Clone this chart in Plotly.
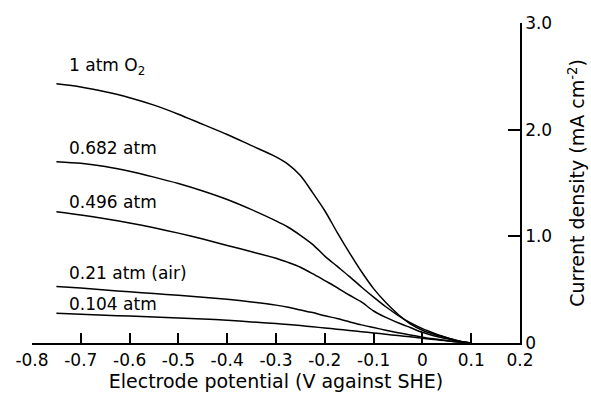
import plotly.graph_objects as go

# Electrode potential grid (V against SHE)
potential = [-0.75, -0.70, -0.65, -0.60, -0.55, -0.50, -0.45, -0.40, -0.35, -0.30,
             -0.275, -0.25, -0.225, -0.20, -0.175, -0.15, -0.125, -0.10, -0.075,
             -0.05, -0.025, 0.0, 0.025, 0.05, 0.075, 0.10]

# Current density (mA cm^-2) at each oxygen partial pressure
j_1atm = [2.43, 2.40, 2.355, 2.30, 2.23, 2.145, 2.05, 1.955, 1.85, 1.745,
          1.675, 1.57, 1.41, 1.24, 1.04, 0.85, 0.67, 0.51, 0.38,
          0.27, 0.18, 0.12, 0.08, 0.05, 0.02, 0.0]
j_0682 = [1.70, 1.685, 1.655, 1.61, 1.555, 1.495, 1.425, 1.345, 1.25, 1.145,
          1.085, 1.01, 0.925, 0.815, 0.72, 0.625, 0.525, 0.43, 0.34,
          0.26, 0.19, 0.135, 0.09, 0.05, 0.02, 0.0]
j_0496 = [1.23, 1.20, 1.165, 1.125, 1.08, 1.03, 0.975, 0.915, 0.855, 0.795,
          0.755, 0.71, 0.65, 0.585, 0.52, 0.45, 0.385, 0.30, 0.24,
          0.19, 0.145, 0.10, 0.065, 0.04, 0.015, 0.0]
j_021 = [0.53, 0.515, 0.497, 0.48, 0.463, 0.447, 0.43, 0.41, 0.385, 0.355,
         0.335, 0.31, 0.285, 0.255, 0.23, 0.20, 0.17, 0.145, 0.12,
         0.097, 0.075, 0.055, 0.038, 0.022, 0.01, 0.0]
j_0104 = [0.28, 0.27, 0.26, 0.252, 0.244, 0.235, 0.225, 0.213, 0.198, 0.182,
          0.173, 0.163, 0.152, 0.141, 0.13, 0.118, 0.106, 0.094, 0.082,
          0.07, 0.058, 0.045, 0.032, 0.02, 0.01, 0.0]

series = [j_1atm, j_0682, j_0496, j_021, j_0104]
labels = ["1 atm O<sub>2</sub>", "0.682 atm", "0.496 atm", "0.21 atm (air)", "0.104 atm"]
label_y = [2.59, 1.83, 1.32, 0.66, 0.365]

x_ticks = [-0.8, -0.7, -0.6, -0.5, -0.4, -0.3, -0.2, -0.1, 0.0, 0.1, 0.2]
x_ticktext = ["-0.8", "-0.7", "-0.6", "-0.5", "-0.4", "-0.3", "-0.2", "-0.1", "0", "0.1", "0.2"]
y_ticks = [0, 1, 2, 3]
y_ticktext = ["0", "1.0", "2.0", "3.0"]

FONT = "DejaVu Sans"

fig = go.Figure()
for ys in series:
    fig.add_trace(go.Scatter(
        x=potential, y=ys, mode="lines",
        line=dict(color="black", width=1.5, shape="spline", smoothing=0.8),
        showlegend=False, hoverinfo="skip"))

for text, yl in zip(labels, label_y):
    fig.add_annotation(x=-0.728, y=yl, text=text, showarrow=False,
                       xanchor="left", yanchor="middle",
                       font=dict(family=FONT, size=17, color="black"))

fig.update_layout(
    width=591, height=394,
    margin=dict(l=32, r=71, t=23, b=51),
    paper_bgcolor="white", plot_bgcolor="white",
    font=dict(family=FONT, size=18, color="black"),
    xaxis=dict(
        range=[-0.8, 0.2], tickvals=x_ticks, ticktext=x_ticktext,
        showline=True, linecolor="black", linewidth=1.5,
        ticks="inside", ticklen=10, tickwidth=1.5, tickcolor="black",
        showgrid=False, zeroline=False, ticklabelstandoff=1,
        automargin=False,
        tickfont=dict(family=FONT, size=17),
        title=dict(text="Electrode potential (V against SHE)",
                   font=dict(family=FONT, size=19), standoff=4),
    ),
    yaxis=dict(
        range=[0, 3.0], side="right", tickvals=y_ticks, ticktext=y_ticktext,
        showline=True, linecolor="black", linewidth=1.5,
        ticks="inside", ticklen=12, tickwidth=1.5, tickcolor="black",
        showgrid=False, zeroline=False, automargin=False,
        tickfont=dict(family=FONT, size=17),
        title=dict(text="Current density (mA cm<sup>-2</sup>)",
                   font=dict(family=FONT, size=19), standoff=20),
    ),
)

fig.write_html("out.html")
